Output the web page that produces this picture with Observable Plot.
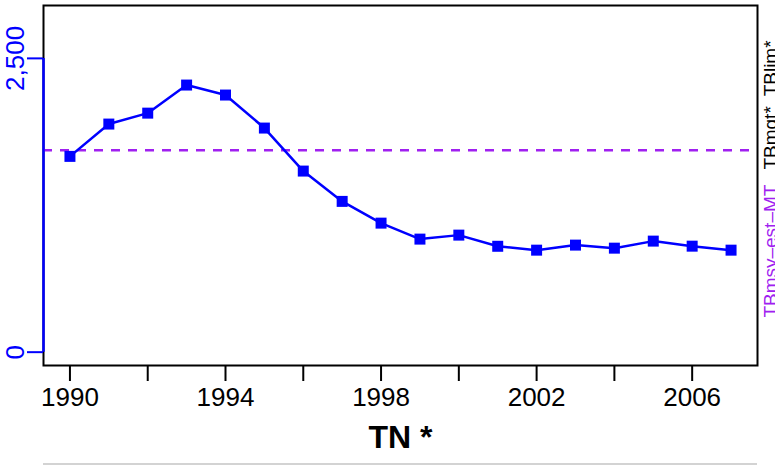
<!DOCTYPE html>
<html>
<head>
<meta charset="utf-8">
<script src="https://cdn.jsdelivr.net/npm/d3@7"></script>
<script src="https://cdn.jsdelivr.net/npm/@observablehq/plot@0.6"></script>
<style>
  html, body { margin: 0; padding: 0; background: white; overflow: hidden; width: 775px; height: 466px; }
  #rule { margin-left: 43px; width: 714px; height: 0; border-top: 2px solid #d3d3d3; }
</style>
</head>
<body>
<div id="chart"></div>
<div id="rule"></div>
<script>
const years = [1990, 1991, 1992, 1993, 1994, 1995, 1996, 1997, 1998, 1999, 2000, 2001, 2002, 2003, 2004, 2005, 2006, 2007];
const biomass = [1666, 1941, 2034, 2273, 2188, 1907, 1541, 1283, 1098, 962, 996, 901, 868, 911, 885, 945, 902, 868];
const refValue = 1719;
const yTicks = [0, 2500];
const xTicks = [1990, 1992, 1994, 1996, 1998, 2000, 2002, 2004, 2006];
const xTickLabels = [1990, 1994, 1998, 2002, 2006];
const title = "TN *";
const refLabels = ["TBmsy\u2013est\u2013MT", "TBmgt*", "TBlim*"];
const refLabelColors = ["#A020F0", "black", "black"];
const refLabelTop = [1426, 2093, 2653];

const data = years.map((year, i) => ({year, value: biomass[i]}));
const xDomain = [1989.32, 2007.68];
const yDomain = [-113.5, 2950];
const labels = refLabels.map((t, i) => ({t, c: refLabelColors[i], y: refLabelTop[i]}));

const chart = Plot.plot({
  width: 775,
  height: 463,
  marginTop: 5,
  marginBottom: 98,
  marginLeft: 43,
  marginRight: 18,
  style: {fontFamily: "'Liberation Sans', Arial, sans-serif", background: "white", color: "black"},
  x: {domain: xDomain},
  y: {domain: yDomain},
  marks: [
    Plot.frame({stroke: "black", strokeWidth: 2}),
    Plot.ruleY([refValue], {stroke: "#A020F0", strokeWidth: 2.5, strokeDasharray: "9,8"}),
    Plot.line(data, {x: "year", y: "value", stroke: "blue", strokeWidth: 2.5}),
    Plot.dot(data, {x: "year", y: "value", symbol: "square", r: 6.2, fill: "blue", stroke: "none"}),
    Plot.axisX({ticks: xTicks, tickSize: 16, tickPadding: 6, strokeWidth: 2, fontSize: 26, label: null,
      tickFormat: d => xTickLabels.includes(d) ? String(d) : ""}),
    Plot.axisY({ticks: yTicks, tickSize: 16, stroke: "blue", strokeWidth: 2, label: null, tickFormat: () => ""}),
    Plot.ruleX([xDomain[0]], {y1: yTicks[0], y2: yTicks[1], stroke: "blue", strokeWidth: 2.5}),
    Plot.text(yTicks, {y: d => d, text: d => d3.format(",")(d), frameAnchor: "left", dx: -20,
      rotate: -90, textAnchor: "middle", lineAnchor: "bottom", fill: "blue", fontSize: 26}),
    Plot.text([title], {frameAnchor: "bottom", dy: 82, lineAnchor: "bottom", fontSize: 32, fontWeight: "bold", fill: "black"}),
    Plot.text(labels, {y: "y", text: "t", fill: "c", frameAnchor: "right", dx: 19, rotate: -90,
      textAnchor: "end", lineAnchor: "bottom", fontSize: 19})
  ]
});
document.getElementById("chart").appendChild(chart);
</script>
</body>
</html>
